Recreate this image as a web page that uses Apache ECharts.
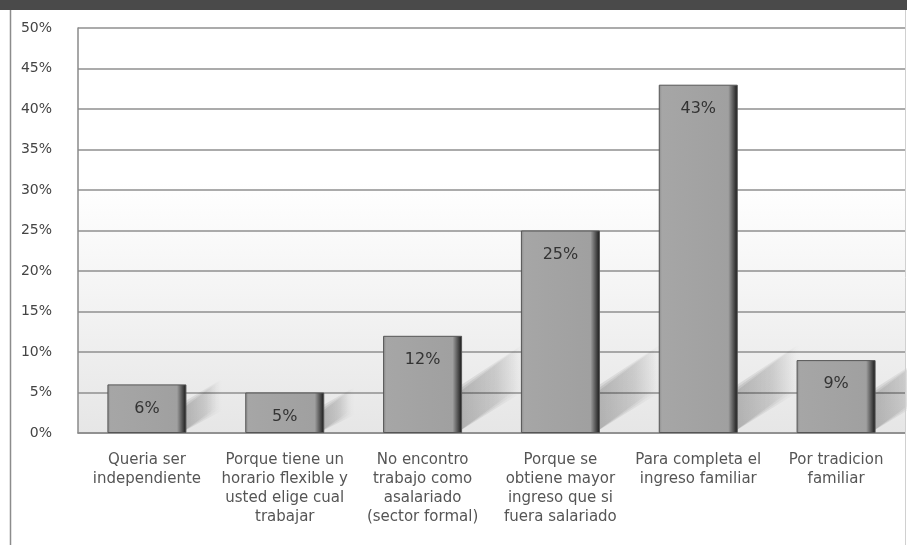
<!DOCTYPE html>
<html>
<head>
<meta charset="utf-8">
<script src="https://cdn.jsdelivr.net/npm/echarts@6/dist/echarts.min.js"></script>
<style>
  html, body { margin: 0; padding: 0; background: #ffffff; }
  #chart { width: 907px; height: 545px; }
</style>
</head>
<body>
<div id="chart"></div>
<script>
// Reasons for being self-employed (share of respondents)
const categories = [
  'Queria ser\nindependiente',
  'Porque tiene un\nhorario flexible y\nusted elige cual\ntrabajar',
  'No encontro\ntrabajo como\nasalariado\n(sector formal)',
  'Porque se\nobtiene mayor\ningreso que si\nfuera salariado',
  'Para completa el\ningreso familiar',
  'Por tradicion\nfamiliar'
];
const values = [6, 5, 12, 25, 43, 9];
const yMin = 0;
const yMax = 50;
const yStep = 5;

const FONT = '"DejaVu Sans", Verdana, sans-serif';
const BAR_WIDTH = 79;

const chart = echarts.init(document.getElementById('chart'), null, { renderer: 'canvas' });

// soft diagonal cast shadow to the right of each bar,
// built from a few stacked translucent layers so the edges fade out
function renderShadow(params, api) {
  const idx = api.value(0);
  const base = api.coord([idx, 0]);
  const top = api.coord([idx, api.value(1)]);
  const xr = base[0] + BAR_WIDTH / 2 - 4;
  const y0 = base[1];
  const h = y0 - top[1];
  const len = Math.min(h * 0.7, 60);
  const thick = Math.min(h * 0.5, 40);
  const rise = len * 0.75;
  const layers = [];
  const spreads = [6, 3, 0];
  spreads.forEach(function (s) {
    layers.push({
      type: 'polygon',
      shape: {
        points: [
          [xr, y0 - 1],
          [xr, y0 - thick - s],
          [xr + len + s, y0 - thick - rise - s * 0.75],
          [xr + len + s, y0 - rise + s * 0.5]
        ]
      },
      style: {
        fill: new echarts.graphic.LinearGradient(0, 0, 1, 0, [
          { offset: 0, color: 'rgba(0,0,0,0.09)' },
          { offset: 0.6, color: 'rgba(0,0,0,0.05)' },
          { offset: 1, color: 'rgba(0,0,0,0.0)' }
        ])
      }
    });
  });
  return { type: 'group', children: layers };
}

const option = {
  backgroundColor: '#ffffff',
  animation: false,
  graphic: [
    { type: 'rect', left: 0, top: 0, shape: { width: 907, height: 10 }, style: { fill: '#4a4a4a' }, z: 10 },
    { type: 'line', shape: { x1: 10.5, y1: 10, x2: 10.5, y2: 545 }, style: { stroke: '#8c8c8c', lineWidth: 1.5 }, z: 10 },
    { type: 'line', shape: { x1: 905.5, y1: 10, x2: 905.5, y2: 545 }, style: { stroke: '#d0d0d0', lineWidth: 1 }, z: 10 }
  ],
  grid: {
    left: 78,
    right: 2,
    top: 28,
    bottom: 112,
    show: true,
    borderWidth: 0,
    backgroundColor: {
      type: 'linear', x: 0, y: 0, x2: 0, y2: 1,
      colorStops: [
        { offset: 0, color: '#ffffff' },
        { offset: 0.38, color: '#ffffff' },
        { offset: 1, color: '#e6e6e6' }
      ]
    }
  },
  xAxis: {
    type: 'category',
    data: categories,
    axisLine: { show: true, lineStyle: { color: '#8a8a8a', width: 1.5 } },
    axisTick: { show: false },
    axisLabel: {
      interval: 0,
      margin: 18,
      color: '#555555',
      fontFamily: FONT,
      fontSize: 15,
      lineHeight: 19,
      align: 'center'
    }
  },
  yAxis: {
    type: 'value',
    min: yMin,
    max: yMax,
    interval: yStep,
    axisLine: { show: true, lineStyle: { color: '#8a8a8a', width: 1.5 } },
    axisTick: { show: false },
    axisLabel: {
      formatter: '{value}%',
      color: '#444444',
      fontFamily: FONT,
      fontSize: 14,
      margin: 26
    },
    splitLine: { lineStyle: { color: '#8f8f8f', width: 1.5 } }
  },
  series: [
    {
      type: 'custom',
      renderItem: renderShadow,
      data: values.map((v, i) => [i, v]),
      encode: { x: 0, y: 1 },
      z: 1,
      silent: true
    },
    {
      type: 'bar',
      data: values,
      barWidth: BAR_WIDTH,
      z: 2,
      itemStyle: {
        color: new echarts.graphic.LinearGradient(0, 0, 1, 0, [
          { offset: 0, color: '#8a8a8a' },
          { offset: 0.04, color: '#a6a6a6' },
          { offset: 0.88, color: '#a0a0a0' },
          { offset: 0.93, color: '#666666' },
          { offset: 1, color: '#151515' }
        ]),
        borderColor: '#555555',
        borderWidth: 1
      },
      label: {
        show: true,
        position: 'insideTop',
        distance: 16,
        formatter: '{c}%',
        color: '#333333',
        fontFamily: FONT,
        fontSize: 16
      }
    }
  ]
};

chart.setOption(option);
</script>
</body>
</html>
